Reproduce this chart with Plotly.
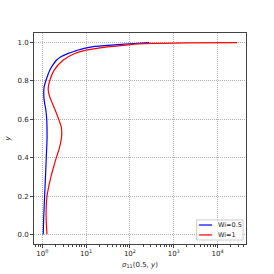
import plotly.graph_objects as go

y_blue = [0.0, 0.1, 0.2, 0.3, 0.4, 0.5, 0.6, 0.65, 0.7, 0.74, 0.77, 0.8, 0.83, 0.855, 0.88, 0.908, 0.925, 0.944, 0.958, 0.97, 0.98, 0.986, 0.994, 1.0]
x_blue = [1.05, 1.08, 1.13, 1.18, 1.23, 1.28, 1.26, 1.2, 1.1, 1.08, 1.1, 1.2, 1.33, 1.47, 1.7, 2.09, 2.6, 3.9, 6.0, 9.0, 16, 32, 100, 275]

y_red = [0.0, 0.05, 0.1, 0.15, 0.2, 0.25, 0.3, 0.35, 0.4, 0.45, 0.5, 0.53, 0.56, 0.6, 0.65, 0.7, 0.73, 0.76, 0.8, 0.855, 0.908, 0.943, 0.958, 0.97, 0.978, 0.985, 0.992, 0.996, 0.999, 1.0]
x_red = [1.28, 1.24, 1.22, 1.23, 1.28, 1.4, 1.57, 1.8, 2.09, 2.45, 2.72, 2.78, 2.7, 2.37, 1.95, 1.58, 1.42, 1.36, 1.47, 1.85, 2.96, 5.5, 9.0, 18, 30, 70, 130, 300, 2000, 28000]

series_names = ["Wi=0.5", "Wi=1"]
series_colors = ["blue", "red"]

major_vals = [1, 10, 100, 1000, 10000]
major_text = ["10<sup>0</sup>", "10<sup>1</sup>", "10<sup>2</sup>", "10<sup>3</sup>", "10<sup>4</sup>"]
minor_vals = [m * 10**e for e in range(-1, 5) for m in range(2, 10)]

fig = go.Figure()
fig.add_trace(go.Scatter(x=x_blue, y=y_blue, mode="lines", name=series_names[0],
                         line=dict(color=series_colors[0], width=1.2, shape="spline", smoothing=1.0)))
fig.add_trace(go.Scatter(x=x_red, y=y_red, mode="lines", name=series_names[1],
                         line=dict(color=series_colors[1], width=1.2, shape="spline", smoothing=1.0)))

# compact legend drawn in paper coordinates (matplotlib-style)
fig.add_shape(type="rect", xref="paper", yref="paper", x0=0.767, x1=0.986, y0=0.019, y1=0.114,
              line=dict(color="#cccccc", width=1), fillcolor="rgba(255,255,255,0.85)", layer="above")
for i, (nm, col) in enumerate(zip(series_names, series_colors)):
    yy = 0.090 - i * 0.047
    fig.add_shape(type="line", xref="paper", yref="paper", x0=0.778, x1=0.840, y0=yy, y1=yy,
                  line=dict(color=col, width=1.2), layer="above")
    fig.add_annotation(xref="paper", yref="paper", x=0.858, y=yy, text=nm, showarrow=False,
                       xanchor="left", yanchor="middle", font=dict(size=6.5, color="#222"))

axis_common = dict(showline=True, mirror=True, linecolor="#444", linewidth=1,
                   showgrid=True, gridcolor="#b0b0b0", griddash="1px,1px", gridwidth=0.7,
                   ticks="outside", ticklen=3, tickcolor="#444", zeroline=False,
                   automargin=False, tickfont=dict(size=7, color="#222"))

fig.update_layout(
    width=274, height=274,
    margin=dict(l=34, r=28, t=33, b=30),
    plot_bgcolor="white", paper_bgcolor="white",
    font=dict(family="DejaVu Sans", size=7, color="#222"),
    showlegend=False,
    xaxis=dict(type="log", range=[-0.19, 4.65], tickvals=major_vals, ticktext=major_text,
               minor=dict(tickvals=minor_vals, ticks="outside", ticklen=2, tickcolor="#444", showgrid=False),
               title=dict(text="<i>σ</i><sub>11</sub>(0.5, <i>y</i>)", font=dict(size=7), standoff=4),
               **axis_common),
    yaxis=dict(range=[-0.05, 1.05], tickvals=[0, 0.2, 0.4, 0.6, 0.8, 1.0],
               ticktext=["0.0", "0.2", "0.4", "0.6", "0.8", "1.0"],
               title=dict(text="<i>y</i>", font=dict(size=7), standoff=6),
               **axis_common),
)
fig.write_html("out.html", config={"displayModeBar": False},
               post_script="document.body.style.margin='0';")
